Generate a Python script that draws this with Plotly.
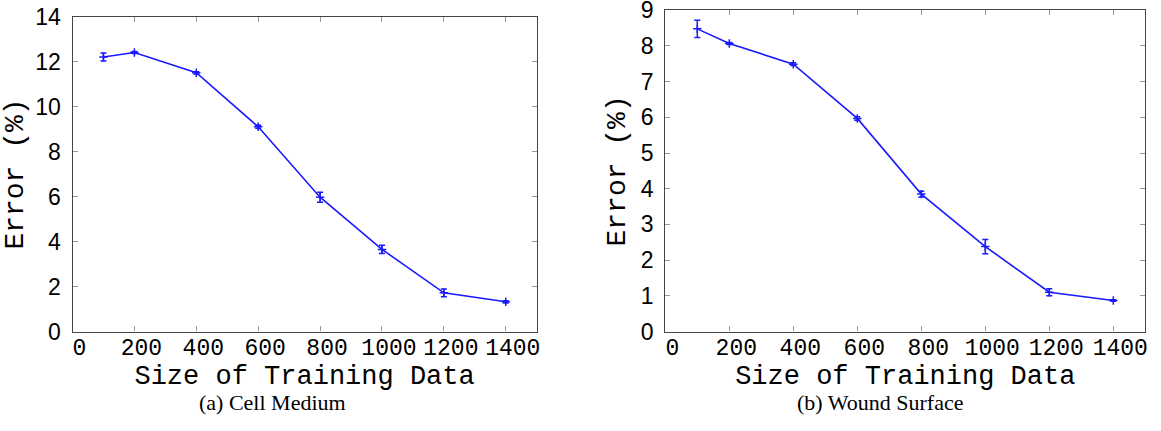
import plotly.graph_objects as go

# ---- data ----
train_size = [100, 200, 400, 600, 800, 1000, 1200, 1400]

cell_medium_err = [12.2, 12.4, 11.5, 9.1, 5.97, 3.65, 1.72, 1.32]
cell_medium_sd = [0.18, 0.04, 0.05, 0.07, 0.22, 0.18, 0.17, 0.05]

wound_surface_err = [8.48, 8.07, 7.49, 5.97, 3.85, 2.38, 1.10, 0.87]
wound_surface_sd = [0.24, 0.03, 0.04, 0.05, 0.08, 0.20, 0.10, 0.02]

x_ticks = [0, 200, 400, 600, 800, 1000, 1200, 1400]
y_ticks_a = [0, 2, 4, 6, 8, 10, 12, 14]
y_ticks_b = [0, 1, 2, 3, 4, 5, 6, 7, 8, 9]

captions = ["(a) Cell Medium", "(b) Wound Surface"]

BLUE = "#1a1aff"
MONO = "Liberation Mono, Courier New, monospace"
SANS = "Liberation Sans, Arial, sans-serif"
SERIF = "Liberation Serif, Times New Roman, serif"

# body margin is removed by a post script, so the figure fills the window
W, H, OFF = 1161, 431, 0


def px_x(v):
    return (v - OFF) / W


def px_y(v):
    return 1 - (v - OFF) / H


fig = go.Figure()

fig.add_trace(go.Scatter(
    x=train_size, y=cell_medium_err, mode="lines+markers",
    line=dict(color=BLUE, width=1.6),
    marker=dict(symbol="cross-thin", size=6, line=dict(color=BLUE, width=1.5)),
    error_y=dict(type="data", array=cell_medium_sd, visible=True,
                 color=BLUE, thickness=1.5, width=3),
    xaxis="x", yaxis="y", showlegend=False))

fig.add_trace(go.Scatter(
    x=train_size, y=wound_surface_err, mode="lines+markers",
    line=dict(color=BLUE, width=1.6),
    marker=dict(symbol="cross-thin", size=6, line=dict(color=BLUE, width=1.5)),
    error_y=dict(type="data", array=wound_surface_sd, visible=True,
                 color=BLUE, thickness=1.5, width=3),
    xaxis="x2", yaxis="y2", showlegend=False))

common_x = dict(
    range=[0, 1500], tickvals=x_ticks, ticktext=[str(v) for v in x_ticks],
    ticks="inside", ticklen=5, tickcolor="#999", tickwidth=1,
    showline=True, linecolor="#444", linewidth=1.3, mirror="ticks",
    showgrid=False, zeroline=False, automargin=False,
    tickfont=dict(family=MONO, size=23, color="black"),
    ticklabelshift=7, ticklabelstandoff=-5, ticklabeloverflow="allow",
    title=dict(text="Size of Training Data",
               font=dict(family=MONO, size=27, color="black"), standoff=0),
)
common_y = dict(
    ticks="inside", ticklen=5, tickcolor="#999", tickwidth=1,
    showline=True, linecolor="#444", linewidth=1.3, mirror="ticks",
    showgrid=False, zeroline=False, automargin=False,
    tickfont=dict(family=SANS, size=23, color="black"),
    ticklabelstandoff=6, ticklabeloverflow="allow",
)

fig.update_layout(
    width=W, height=H,
    margin=dict(l=0, r=0, t=0, b=0, autoexpand=False),
    paper_bgcolor="white", plot_bgcolor="white",
    xaxis=dict(domain=[px_x(72.5), px_x(536.7)], anchor="y", **common_x),
    yaxis=dict(domain=[px_y(331.5), px_y(16.5)], anchor="x", range=[0, 14],
               tickvals=y_ticks_a, ticktext=[str(v) for v in y_ticks_a],
               title=dict(text="Error (%)", font=dict(family=MONO, size=28, color="black"),
                          standoff=5),
               **common_y),
    xaxis2=dict(domain=[px_x(665.3), px_x(1145.3)], anchor="y2", **common_x),
    yaxis2=dict(domain=[px_y(331.5), px_y(10.3)], anchor="x2", range=[0, 9],
                tickvals=y_ticks_b, ticktext=[str(v) for v in y_ticks_b],
                title=dict(text="Error (%)", font=dict(family=MONO, size=28, color="black"),
                           standoff=6),
                **common_y),
    annotations=[
        dict(text=captions[0], x=px_x(272), y=px_y(402), xref="paper", yref="paper",
             xanchor="center", yanchor="middle",
             showarrow=False, font=dict(family=SERIF, size=22, color="black")),
        dict(text=captions[1], x=px_x(880), y=px_y(402), xref="paper", yref="paper",
             xanchor="center", yanchor="middle",
             showarrow=False, font=dict(family=SERIF, size=22, color="black")),
    ],
)

fig.write_html("out.html",
               config={"displayModeBar": False},
               post_script="document.body.style.margin='0';"
                           "document.body.style.overflow='hidden';")
